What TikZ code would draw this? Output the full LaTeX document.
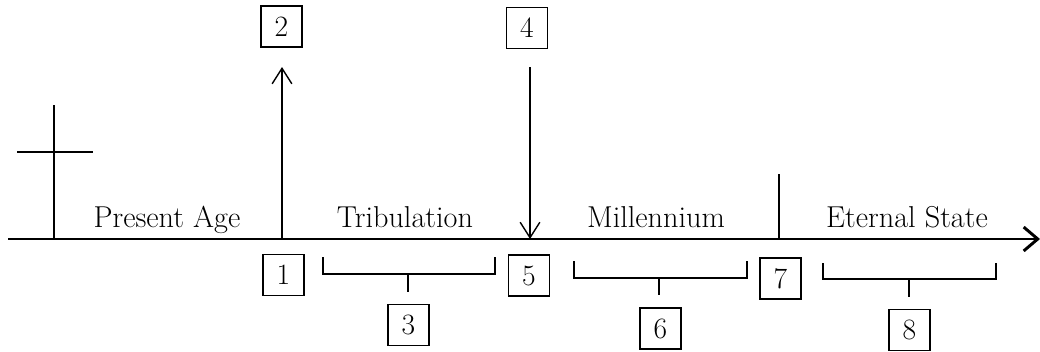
\documentclass[tikz,border=0pt]{standalone}
\usetikzlibrary{arrows.meta}
\begin{document}
\begin{tikzpicture}[x=0.025cm,y=-0.025cm,
  axisline/.style={line width=2.1pt},
  arrowline/.style={line width=1pt,-{Straight Barb[length=11pt,width=14pt,line width=1pt]}},
  bracketline/.style={line width=0.9pt},
  numbox/.style={draw,line width=0.9pt,minimum width=29pt,minimum height=29pt,inner sep=0pt,font=\fontsize{21}{25}\selectfont},
  period/.style={anchor=base,inner sep=0pt,font=\fontsize{21.5}{26}\selectfont}]
\useasboundingbox (0,0) rectangle (1040,351);
% axis
\coordinate (axstart) at (8,239);
\coordinate (axend) at (1040,239);
\draw[axisline,-{Straight Barb[length=10pt,width=17pt,line width=2.1pt]}] (axstart) -- (axend);
% cross
\coordinate (crossbot) at (54,239);
\coordinate (crosstop) at (54,105);
\coordinate (barl) at (17,152);
\coordinate (barr) at (93,152);
\draw[axisline] (crossbot) -- (crosstop);
\draw[axisline] (barl) -- (barr);
% period labels
\node[period] (present) at (167,227) {Present Age};
\node[period] (trib) at (405,227) {Tribulation};
\node[period] (mill) at (656,227) {Millennium};
\node[period] (eternal) at (907,227) {Eternal State};
% boxes
\node[numbox] (b1) at (283.5,275) {1};
\node[numbox] (b2) at (281.5,26.5) {2};
\node[numbox] (b3) at (408.5,325) {3};
\node[numbox] (b4) at (527,28) {4};
\node[numbox] (b5) at (529,275.5) {5};
\node[numbox] (b6) at (660.5,328.5) {6};
\node[numbox] (b7) at (780.5,278.5) {7};
\node[numbox] (b8) at (909.5,330) {8};
% rapture arrow up
\coordinate (upbot) at (282,239);
\coordinate (uptop) at (282,67);
\draw[arrowline] (upbot) -- (uptop);
% second coming arrow down
\coordinate (downtop) at (530,67);
\coordinate (downbot) at (530,239);
\draw[arrowline] (downtop) -- (downbot);
% divider
\coordinate (divtop) at (779,174);
\coordinate (divbot) at (779,239);
\draw[line width=1.1pt] (divtop) -- (divbot);
% brackets
\coordinate (s3top) at (408,274);
\coordinate (s3bot) at (408,292);
\coordinate (s6top) at (659,278);
\coordinate (s6bot) at (659,295);
\coordinate (s8top) at (909,279);
\coordinate (s8bot) at (909,297);
\draw[bracketline] (323,257) |- (495,274) -- (495,257);
\draw[bracketline] (s3top) -- (s3bot);
\draw[bracketline] (574,261) |- (747,278) -- (747,261);
\draw[bracketline] (s6top) -- (s6bot);
\draw[bracketline] (823,263) |- (996,279) -- (996,263);
\draw[bracketline] (s8top) -- (s8bot);
\end{tikzpicture}
\end{document}
